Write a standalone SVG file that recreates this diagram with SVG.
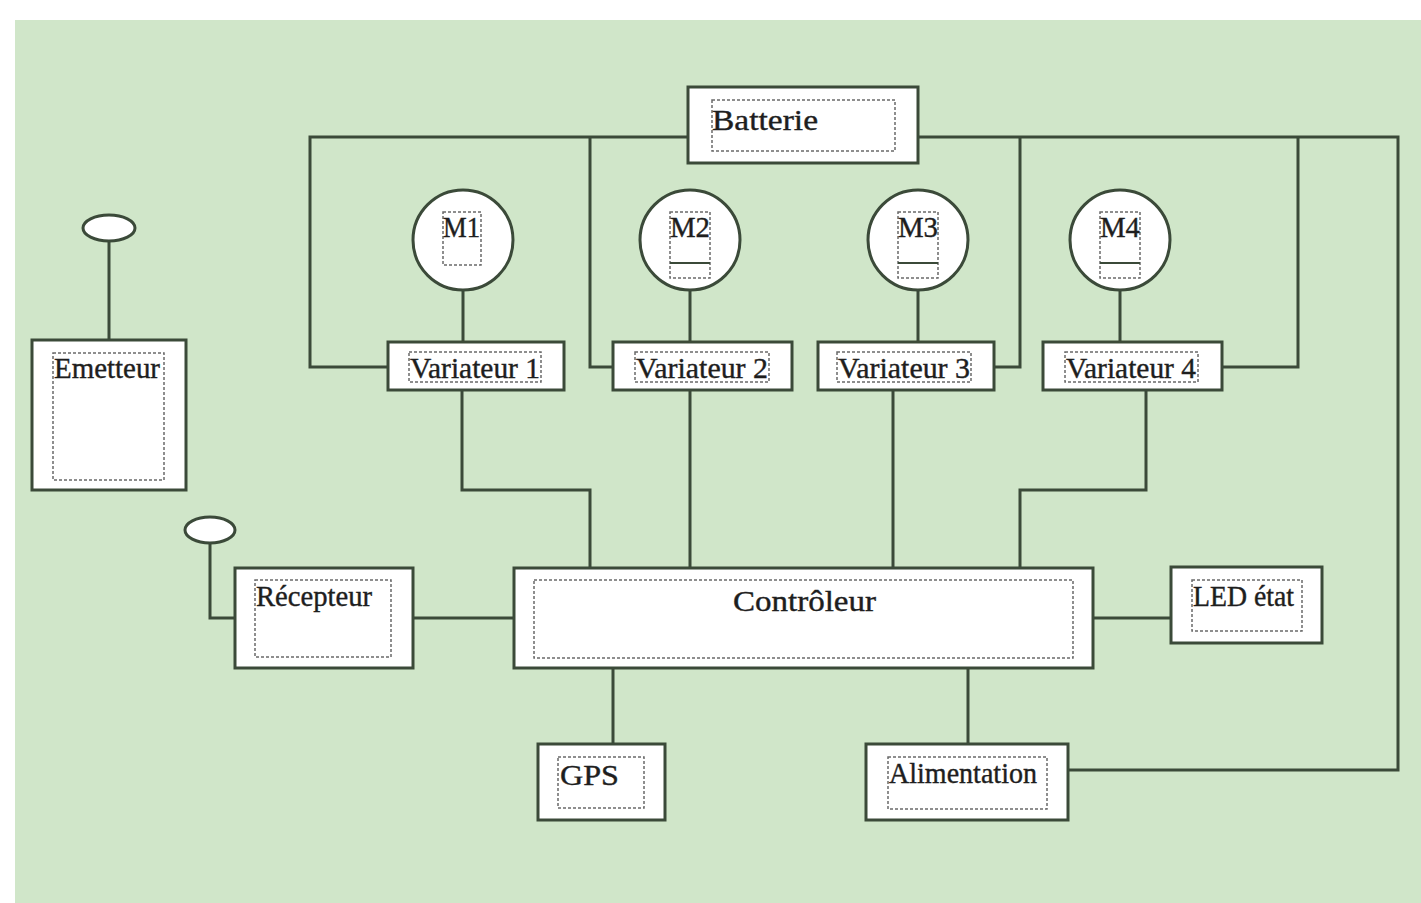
<svg xmlns="http://www.w3.org/2000/svg" width="1421" height="903" viewBox="0 0 1421 903">
<style>
.box{fill:#ffffff;stroke:#3b4a39;stroke-width:3}
.inner{fill:none;stroke:#6a6a6a;stroke-width:1.5;stroke-dasharray:3 2}
.wire{fill:none;stroke:#3b4a39;stroke-width:3}
.t{font-family:"Liberation Serif","Times New Roman",serif;fill:#1e1e1e;stroke:#1e1e1e;stroke-width:0.4;font-size:30px}
</style>
<rect x="0" y="0" width="1421" height="903" fill="#ffffff"/>
<rect x="15" y="20" width="1406" height="883" fill="#d0e6c9"/>
<g id="connectors">
<polyline class="wire" points="688,137 310,137 310,367 388,367"/>
<polyline class="wire" points="590,137 590,367 613,367"/>
<polyline class="wire" points="918,137 1398,137 1398,770 1068,770"/>
<polyline class="wire" points="1020,137 1020,367 994,367"/>
<polyline class="wire" points="1298,137 1298,367 1222,367"/>
<line class="wire" x1="463" y1="290" x2="463" y2="342"/>
<line class="wire" x1="690" y1="290" x2="690" y2="342"/>
<line class="wire" x1="918" y1="290" x2="918" y2="342"/>
<line class="wire" x1="1120" y1="290" x2="1120" y2="342"/>
<polyline class="wire" points="462,390 462,490 590,490 590,568"/>
<line class="wire" x1="690" y1="390" x2="690" y2="568"/>
<line class="wire" x1="893" y1="390" x2="893" y2="568"/>
<polyline class="wire" points="1146,390 1146,490 1020,490 1020,568"/>
<line class="wire" x1="109" y1="241" x2="109" y2="340"/>
<polyline class="wire" points="210,543 210,618 235,618"/>
<line class="wire" x1="413" y1="618" x2="514" y2="618"/>
<line class="wire" x1="1093" y1="618" x2="1171" y2="618"/>
<line class="wire" x1="613" y1="668" x2="613" y2="744"/>
<line class="wire" x1="968" y1="668" x2="968" y2="744"/>
</g>
<g id="batterie">
<rect class="box" x="688" y="87" width="230" height="76"/>
<rect class="inner" x="712" y="100" width="183" height="51"/>
<text class="t" x="712" y="130" font-size="33" textLength="106" lengthAdjust="spacingAndGlyphs">Batterie</text>
</g>
<g id="m1">
<circle class="box" cx="463" cy="240" r="50"/>
<rect class="inner" x="443" y="212" width="38" height="53"/>
<text class="t" x="443" y="237" textLength="37" lengthAdjust="spacingAndGlyphs">M1</text>
</g>
<g id="m2">
<circle class="box" cx="690" cy="240" r="50"/>
<rect class="inner" x="670" y="212" width="40" height="66"/>
<line x1="670" y1="263" x2="710" y2="263" stroke="#3b4a39" stroke-width="2"/>
<text class="t" x="670" y="237" textLength="40" lengthAdjust="spacingAndGlyphs">M2</text>
</g>
<g id="m3">
<circle class="box" cx="918" cy="240" r="50"/>
<rect class="inner" x="898" y="212" width="40" height="66"/>
<line x1="898" y1="263" x2="938" y2="263" stroke="#3b4a39" stroke-width="2"/>
<text class="t" x="898" y="237" textLength="40" lengthAdjust="spacingAndGlyphs">M3</text>
</g>
<g id="m4">
<circle class="box" cx="1120" cy="240" r="50"/>
<rect class="inner" x="1100" y="212" width="40" height="66"/>
<line x1="1100" y1="263" x2="1140" y2="263" stroke="#3b4a39" stroke-width="2"/>
<text class="t" x="1100" y="237" textLength="40" lengthAdjust="spacingAndGlyphs">M4</text>
</g>
<g id="variateur1">
<rect class="box" x="388" y="342" width="176" height="48"/>
<rect class="inner" x="409" y="352" width="132" height="30"/>
<text class="t" x="410" y="378" font-size="29" textLength="130" lengthAdjust="spacingAndGlyphs">Variateur 1</text>
</g>
<g id="variateur2">
<rect class="box" x="613" y="342" width="179" height="48"/>
<rect class="inner" x="635" y="352" width="134" height="30"/>
<text class="t" x="636" y="378" font-size="29" textLength="132" lengthAdjust="spacingAndGlyphs">Variateur 2</text>
</g>
<g id="variateur3">
<rect class="box" x="818" y="342" width="176" height="48"/>
<rect class="inner" x="837" y="352" width="134" height="30"/>
<text class="t" x="838" y="378" font-size="29" textLength="132" lengthAdjust="spacingAndGlyphs">Variateur 3</text>
</g>
<g id="variateur4">
<rect class="box" x="1043" y="342" width="179" height="48"/>
<rect class="inner" x="1065" y="352" width="133" height="30"/>
<text class="t" x="1066" y="378" font-size="29" textLength="130" lengthAdjust="spacingAndGlyphs">Variateur 4</text>
</g>
<g id="emetteur">
<ellipse class="box" cx="109" cy="228" rx="26" ry="13"/>
<rect class="box" x="32" y="340" width="154" height="150"/>
<rect class="inner" x="53" y="353" width="111" height="127"/>
<text class="t" x="54" y="378" font-size="29" textLength="106" lengthAdjust="spacingAndGlyphs">Emetteur</text>
</g>
<g id="recepteur">
<ellipse class="box" cx="210" cy="530" rx="25" ry="13"/>
<rect class="box" x="235" y="568" width="178" height="100"/>
<rect class="inner" x="255" y="580" width="136" height="77"/>
<text class="t" x="256" y="606" font-size="29" textLength="116" lengthAdjust="spacingAndGlyphs">Récepteur</text>
</g>
<g id="controleur">
<rect class="box" x="514" y="568" width="579" height="100"/>
<rect class="inner" x="534" y="580" width="539" height="78"/>
<text class="t" x="733" y="611" font-size="33" textLength="143" lengthAdjust="spacingAndGlyphs">Contrôleur</text>
</g>
<g id="led">
<rect class="box" x="1171" y="567" width="151" height="76"/>
<rect class="inner" x="1192" y="580" width="110" height="51"/>
<text class="t" x="1193" y="606" font-size="29" textLength="101" lengthAdjust="spacingAndGlyphs">LED état</text>
</g>
<g id="gps">
<rect class="box" x="538" y="744" width="127" height="76"/>
<rect class="inner" x="558" y="757" width="86" height="51"/>
<text class="t" x="560" y="785" font-size="31" textLength="59" lengthAdjust="spacingAndGlyphs">GPS</text>
</g>
<g id="alimentation">
<rect class="box" x="866" y="744" width="202" height="76"/>
<rect class="inner" x="888" y="757" width="159" height="52"/>
<text class="t" x="889" y="783" font-size="29" textLength="148" lengthAdjust="spacingAndGlyphs">Alimentation</text>
</g>
</svg>
